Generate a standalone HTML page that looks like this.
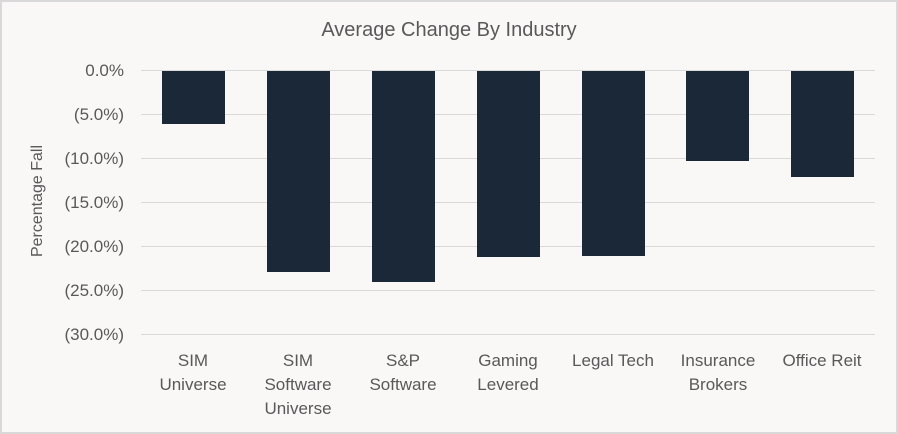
<!DOCTYPE html><html><head><style>
body{margin:0;width:898px;height:434px;overflow:hidden;background:#fff}
.c{position:absolute;left:0;top:0;width:894px;height:430px;border:2px solid #d9d9d9;background:#f9f8f6}
.t{position:absolute;font-family:"Liberation Sans",sans-serif;color:#595959}
.g{position:absolute;left:141px;width:734px;height:1px;background:#d9d9d9}
.b{position:absolute;top:71px;width:63px;background:#1b2838}
.y{position:absolute;right:774px;font-size:17px;font-family:"Liberation Sans",sans-serif;color:#595959;text-align:right;white-space:nowrap}
.x{position:absolute;top:349px;width:104px;font-size:17px;line-height:24px;text-align:center;font-family:"Liberation Sans",sans-serif;color:#595959}
</style></head><body><div class="c"></div>
<div class="t" style="left:0;width:898px;top:19px;text-align:center;font-size:20px">Average Change By Industry</div>
<div class="t" style="left:-22px;top:192px;width:120px;text-align:center;font-size:16px;transform:rotate(-90deg)">Percentage Fall</div>
<div class="g" style="top:70px"></div><div class="g" style="top:114px"></div><div class="g" style="top:158px"></div><div class="g" style="top:202px"></div><div class="g" style="top:246px"></div><div class="g" style="top:290px"></div><div class="g" style="top:334px"></div>
<div class="y" style="top:61px">0.0%</div><div class="y" style="top:105px">(5.0%)</div><div class="y" style="top:149px">(10.0%)</div><div class="y" style="top:193px">(15.0%)</div><div class="y" style="top:237px">(20.0%)</div><div class="y" style="top:281px">(25.0%)</div><div class="y" style="top:325px">(30.0%)</div>
<div class="b" style="left:162px;height:53px"></div>
<div class="b" style="left:267px;height:201px"></div>
<div class="b" style="left:372px;height:211px"></div>
<div class="b" style="left:477px;height:186px"></div>
<div class="b" style="left:582px;height:185px"></div>
<div class="b" style="left:686px;height:90px"></div>
<div class="b" style="left:791px;height:106px"></div>
<div class="x" style="left:141px">SIM<br>Universe</div>
<div class="x" style="left:246px">SIM<br>Software<br>Universe</div>
<div class="x" style="left:351px">S&amp;P<br>Software</div>
<div class="x" style="left:456px">Gaming<br>Levered</div>
<div class="x" style="left:561px">Legal Tech</div>
<div class="x" style="left:666px">Insurance<br>Brokers</div>
<div class="x" style="left:770px">Office Reit</div>
</body></html>
